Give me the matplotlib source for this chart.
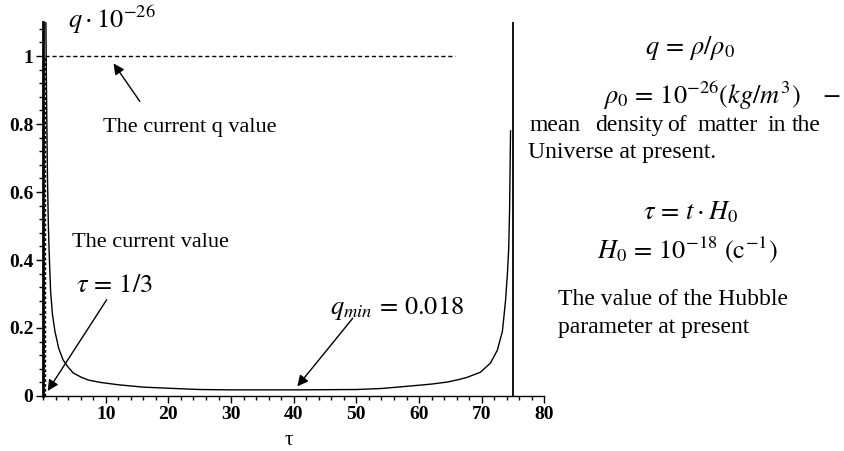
import matplotlib.pyplot as plt
from matplotlib.ticker import MultipleLocator

plt.rcParams['font.family'] = ['Liberation Serif', 'DejaVu Serif']
plt.rcParams['mathtext.fontset'] = 'stix'

# curve q(tau)
tau = [0.45, 0.55, 0.70, 0.85, 1.0, 1.2, 1.5, 1.9, 2.5, 3.2, 4.0, 4.8, 6.0,
       7.2, 9.1, 12, 16, 21, 25, 30, 40, 50, 54, 59, 62, 64.5, 66.5, 67.7,
       69.8, 71.4, 72.5, 73.3, 73.8, 74.1, 74.3, 74.45, 74.6]
q = [1.10, 0.90, 0.65, 0.50, 0.41, 0.31, 0.24, 0.19, 0.14, 0.106, 0.085, 0.068, 0.056,
     0.047, 0.040, 0.033, 0.026, 0.022, 0.019, 0.018, 0.018, 0.019, 0.022, 0.030, 0.035,
     0.041, 0.049, 0.055, 0.070, 0.097, 0.135, 0.19, 0.28, 0.36, 0.43, 0.55, 0.78]

tau_now = 1 / 3      # current value
q_now = 1.0
tau_end = 75         # asymptote
q_line_end = 65.8    # where the dashed q = 1 line stops

fig = plt.figure(figsize=(8.44, 4.51), dpi=100)
ax = fig.add_axes([0.051, 0.122, 0.594, 0.829])

ax.plot(tau, q, color='black', lw=1.0)
ax.plot([tau_now, q_line_end], [q_now, q_now], color='black', lw=1.0, ls=(0, (3, 2)))
ax.plot([tau_now, tau_now], [0, q_now], color='black', lw=1.0, ls=(0, (2, 1.5)))
ax.plot([tau_end, tau_end], [0, 1.1], color='black', lw=1.3)

ax.set_xlim(0, 80)
ax.set_ylim(0, 1.1)
ax.spines['top'].set_visible(False)
ax.spines['right'].set_visible(False)
ax.spines['left'].set_linewidth(2.0)
ax.spines['bottom'].set_linewidth(1.0)

ax.xaxis.set_minor_locator(MultipleLocator(2))
ax.yaxis.set_minor_locator(MultipleLocator(0.04))
ax.tick_params(which='major', length=5, width=1, labelsize=14, pad=2)
ax.tick_params(which='minor', length=3, width=1)
ax.set_xticks([10, 20, 30, 40, 50, 60, 70, 80])
ax.set_xticklabels(['10', '20', '30', '40', '50', '60', '70', '80'], fontweight='bold')
ax.set_yticks([0, 0.2, 0.4, 0.6, 0.8, 1.0])
ax.set_yticklabels(['0', '0.2', '0.4', '0.6', '0.8', '1'], fontweight='bold')

fig.text(0.342, 0.024, 'τ', fontsize=15, ha='center', va='center')
fig.text(0.080, 0.955, r'$q\cdot10^{-26}$', fontsize=19, ha='left', va='center')

# annotations
arr = dict(arrowstyle='-|>', color='black', lw=1.0, mutation_scale=16)
ax.annotate('', xy=(11, 0.985), xytext=(15.7, 0.86), arrowprops=arr)
ax.text(9.6, 0.79, 'The current q value', fontsize=16, ha='left', va='center')
ax.text(4.6, 0.453, 'The current value', fontsize=16, ha='left', va='center')
ax.text(5.3, 0.325, r'$\tau\,=\,1/3$', fontsize=19, ha='left', va='center')
ax.annotate('', xy=(0.5, 0.008), xytext=(10.4, 0.29), arrowprops=arr)
ax.text(45.8, 0.26, r'$q_{min}\,=\,0.018$', fontsize=19, ha='left', va='center')
ax.annotate('', xy=(40.3, 0.022), xytext=(49.7, 0.235), arrowprops=arr)

# side notes
fs = 17
fig.text(0.818, 0.894, r'$q\,=\,\rho/\rho_0$', fontsize=19, ha='center', va='center')
fig.text(0.997, 0.787, r'$\rho_0\,=\,10^{-26}(kg/m^3)\quad -$', fontsize=19, ha='right', va='center')
words = ['mean', 'density', 'of', 'matter', 'in', 'the']
word_x = [530, 595, 667, 697, 768, 792]
for w, wx in zip(words, word_x):
    fig.text(wx / 844, 0.722, w, fontsize=fs, ha='left', va='center')
fig.text(0.626, 0.662, 'Universe at present.', fontsize=fs, ha='left', va='center')
fig.text(0.818, 0.530, r'$\tau\,=\,t\cdot H_0$', fontsize=19, ha='center', va='center')
fig.text(0.814, 0.446, r'$H_0\,=\,10^{-18}\ (\mathrm{c}^{-1})$', fontsize=19, ha='center', va='center')
fig.text(0.661, 0.335, 'The value of the Hubble', fontsize=fs, ha='left', va='center')
fig.text(0.661, 0.273, 'parameter at present', fontsize=fs, ha='left', va='center')

fig.savefig('out.png', dpi=100)
